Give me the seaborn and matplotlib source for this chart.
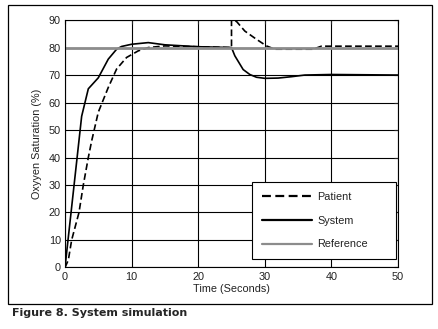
import numpy as np
import pandas as pd
import seaborn as sns
import matplotlib.pyplot as plt
from matplotlib.patches import Rectangle

sns.set_style('white')
plt.rcParams['font.family'] = ['Liberation Sans', 'DejaVu Sans']

# values
patient_t = [0, 0.5, 1, 2.1, 2.75, 3.5, 4, 5, 6.5, 7.75, 9.25, 11, 12.5, 15, 20, 25,
             25, 25.75, 27, 28.75, 30.25, 31.5, 37.25, 38.5, 50]
patient_v = [0, 2.7, 10, 20, 30, 40, 46, 56.5, 65.5, 72.2, 76.4, 78.8, 80, 80.6, 80.3, 80,
             90, 89.5, 86, 83, 80.6, 79.4, 79.4, 80.5, 80.5]

system_t = [0, 2.5, 3.5, 5, 6.5, 7.75, 8.5, 10, 12.5, 15, 20, 25,
            25.5, 26, 26.75, 27.75, 28.75, 30, 32, 34, 36, 40, 45, 50]
system_v = [0, 55, 65, 69, 75.8, 79.4, 80.4, 81.2, 81.8, 81, 80.3, 80,
            77, 75, 72, 70.2, 69.2, 68.8, 68.9, 69.4, 70, 70.2, 70.1, 70]

ref_t = [0, 50]
ref_v = [80, 80]

fig = plt.figure(figsize=(4.38, 3.29), dpi=100)
ax = fig.add_axes([0.1484, 0.187, 0.7603, 0.752])

sns.lineplot(x=patient_t, y=patient_v, ax=ax, estimator=None, sort=False,
             color='black', lw=1.2, ls=(0, (4, 2)), label='Patient')
sns.lineplot(x=system_t, y=system_v, ax=ax, estimator=None, sort=False,
             color='black', lw=1.2, label='System')
sns.lineplot(x=ref_t, y=ref_v, ax=ax, estimator=None, sort=False,
             color='#8c8c8c', lw=2.0, label='Reference')

ax.set_xlim(0, 50)
ax.set_ylim(0, 90)
ax.set_xticks(range(0, 51, 10))
ax.set_yticks(range(0, 91, 10))
ax.grid(True, color='black', lw=0.8)
ax.set_axisbelow(True)
for s in ax.spines.values():
    s.set_color('black')
    s.set_linewidth(0.8)
ax.tick_params(direction='in', length=3, width=0.8, top=True, right=True,
               labelsize=7.8, labelcolor='#222222', pad=3)

ax.set_xlabel('Time (Seconds)', fontsize=7.8, color='#222222', labelpad=2)
ax.set_ylabel('Oxyyen Saturation (%)', fontsize=7.8, color='#222222', labelpad=5)

leg = ax.legend(loc='lower left', bbox_to_anchor=(0.5625, 0.034, 0.4315, 0.313),
                mode='expand', fontsize=7.8,
                frameon=True, fancybox=False, framealpha=1, edgecolor='black',
                handlelength=4.6, labelspacing=1.25, borderpad=0.9, handletextpad=0.5,
                borderaxespad=0)
leg.get_frame().set_linewidth(0.8)
for h in leg.get_lines():
    h.set_linewidth(1.6)
for t in leg.get_texts():
    t.set_color('#222222')

fig.patches.append(Rectangle((0.0183, 0.076), 0.968, 0.909, transform=fig.transFigure,
                             fill=False, edgecolor='black', lw=0.9))
fig.text(0.027, 0.049, 'Figure 8. System simulation', fontsize=8, fontweight='bold',
         family=['DejaVu Sans'], va='center', ha='left')

fig.savefig('out.png', dpi=100)
